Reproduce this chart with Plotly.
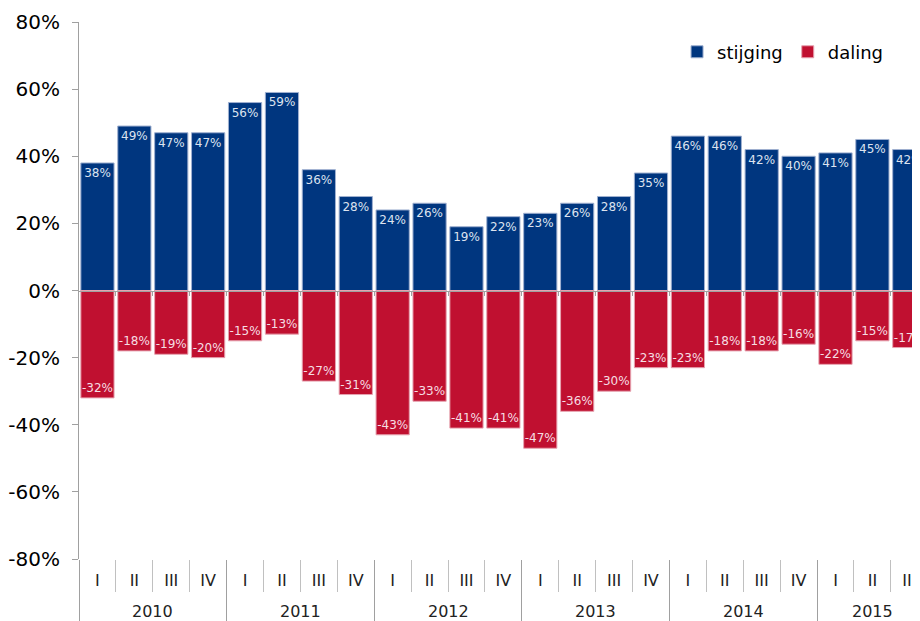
import plotly.graph_objects as go

years = ["2010", "2011", "2012", "2013", "2014", "2015"]
quarters = ["I", "II", "III", "IV"]
categories = [f"{y} {q}" for y in years for q in quarters][:23]
quarter_labels = [c.split(" ")[1] for c in categories]

stijging = [38, 49, 47, 47, 56, 59, 36, 28, 24, 26, 19, 22, 23, 26, 28, 35, 46, 46, 42, 40, 41, 45, 42]
daling = [-32, -18, -19, -20, -15, -13, -27, -31, -43, -33, -41, -41, -47, -36, -30, -23, -23, -18, -18, -16, -22, -15, -17]
y_ticks = [-80, -60, -40, -20, 0, 20, 40, 60, 80]

BLUE = "#00367f"
RED = "#c01030"
FONT = "DejaVu Sans"
n = len(categories)
xr = [-0.5, n - 0.71]

fig = go.Figure()
fig.add_bar(x=categories, y=stijging, name="stijging",
            marker=dict(color=BLUE, line=dict(color="#9fb0d0", width=1)),
            text=[f"{v}%" for v in stijging], textposition="inside", textangle=0,
            insidetextanchor="end", constraintext="none",
            textfont=dict(family=FONT, size=12, color="#dde3ef"),
            hoverinfo="skip")
fig.add_bar(x=categories, y=daling, name="daling",
            marker=dict(color=RED, line=dict(color="#e6a3b0", width=1)),
            text=[f"{v}%" for v in daling], textposition="inside", textangle=0,
            insidetextanchor="end", constraintext="none",
            textfont=dict(family=FONT, size=12, color="#f6dde2"),
            hoverinfo="skip")

# invisible helper traces so the overlay axes (separators, zero line) get drawn
for ax in ["x2", "x3", "x4"]:
    fig.add_scatter(x=[None], y=[None], xaxis=ax, yaxis="y", mode="markers",
                    showlegend=False, hoverinfo="skip")

boundaries = [i - 0.5 for i in range(n)]
year_bounds = [i * 4 - 0.5 for i in range(len(years))]

annotations = []
for k, yv in enumerate(years):
    start = k * 4
    end = min(k * 4 + 3, n - 1)
    annotations.append(dict(x=(start + end) / 2, y=-0.097, xref="x", yref="paper",
                            text=yv, showarrow=False, yanchor="middle",
                            font=dict(family=FONT, size=16, color="#222")))

fig.update_layout(
    width=912, height=613,
    margin=dict(l=70, r=0, t=14, b=53),
    paper_bgcolor="white", plot_bgcolor="white",
    barmode="relative", bargap=0.1,
    font=dict(family=FONT, color="#000"),
    showlegend=True,
    legend=dict(orientation="h", x=0.962, xanchor="right", y=0.944, yanchor="middle",
                font=dict(family=FONT, size=18, color="#000"),
                bgcolor="rgba(0,0,0,0)", itemwidth=30, traceorder="normal"),
    xaxis=dict(type="category", categoryorder="array", categoryarray=categories,
               range=xr, tickmode="array", tickvals=categories, ticktext=quarter_labels,
               ticks="", showline=False, showgrid=False, zeroline=False,
               tickfont=dict(family=FONT, size=16, color="#222"), ticklabelstandoff=10),
    xaxis2=dict(overlaying="x", anchor="y", range=xr, tickmode="array", tickvals=boundaries,
                ticks="outside", ticklen=32, tickcolor="#c0c0c0", tickwidth=1,
                showticklabels=False, showline=False, showgrid=False, zeroline=False),
    xaxis3=dict(overlaying="x", anchor="y", range=xr, tickmode="array", tickvals=year_bounds,
                ticks="outside", ticklen=62, tickcolor="#a0a0a0", tickwidth=1,
                showticklabels=False, showline=False, showgrid=False, zeroline=False),
    xaxis4=dict(overlaying="x", anchor="free", position=0.5, range=xr, tickmode="array",
                tickvals=boundaries[1:], ticks="outside", ticklen=4, tickcolor="#a0a0a0",
                showticklabels=False, showline=True, linecolor="#a0a0a0", linewidth=1,
                showgrid=False, zeroline=False, layer="above traces"),
    yaxis=dict(range=[-80, 80], tickmode="array", tickvals=y_ticks,
               ticktext=[f"{v}%" for v in y_ticks], ticks="outside", ticklen=6,
               tickcolor="#a0a0a0", showline=True, linecolor="#a0a0a0", linewidth=1,
               showgrid=False, zeroline=False, ticklabelstandoff=8,
               tickfont=dict(family=FONT, size=20, color="#000")),
    annotations=annotations,
)

fig.write_html("out.html")
